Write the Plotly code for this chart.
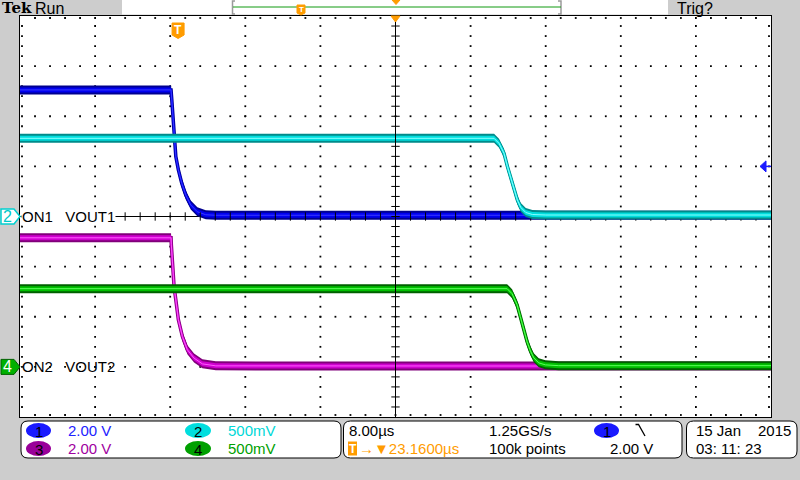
import plotly.graph_objects as go
import numpy as np

# ---------------- data ----------------
T_DIV = 8.0            # µs / div
T_CENTER = 23.16       # µs from trigger to screen centre
T0 = T_CENTER - 5 * T_DIV
T1 = T_CENTER + 5 * T_DIV
TRIG_LEVEL = 2.00      # V on CH1

ch1_scale, ch2_scale, ch3_scale, ch4_scale = 2.0, 0.5, 2.0, 0.5   # V/div
ch1_gnd, ch2_gnd, ch3_gnd, ch4_gnd = 0, 0, -3, -3                  # div from centre

ch1_t = [T0, -0.75, -0.67, -0.53, -0.39, -0.24, 0.03, 0.39, 0.82, 1.35, 2.05, 2.95, 4.02, T1]
ch1_v = [5.05, 5.05, 4.65, 3.85, 2.92, 2.39, 1.86, 1.33, 0.86, 0.46, 0.19, 0.07, 0.05, 0.05]

ch2_t = [T0, 33.66, 34.19, 34.72, 35.08, 35.44, 35.79, 36.14, 36.51, 37.04, 37.74, 39.17, T1]
ch2_v = [0.78, 0.78, 0.73, 0.63, 0.50, 0.38, 0.26, 0.165, 0.09, 0.04, 0.02, 0.015, 0.015]

ch3_t = [T0, -0.75, -0.72, -0.61, -0.43, -0.24, 0.03, 0.46, 0.99, 1.70, 2.59, 4.02, T1]
ch3_v = [5.15, 5.15, 4.87, 4.14, 3.21, 2.67, 1.88, 1.21, 0.68, 0.35, 0.12, 0.04, 0.03]

ch4_t = [T0, 35.05, 35.58, 36.11, 36.46, 36.83, 37.18, 37.53, 37.89, 38.42, 39.13, 40.55, T1]
ch4_v = [0.78, 0.78, 0.73, 0.62, 0.50, 0.37, 0.25, 0.16, 0.09, 0.04, 0.02, 0.012, 0.012]

ch_labels = ["ON1\u00a0\u00a0\u00a0VOUT1", "ON2\u00a0\u00a0\u00a0VOUT2"]
scale_texts = ["2.00\u00a0V", "500mV", "2.00\u00a0V", "500mV"]
timebase_text = "8.00µs"
trig_pos_text = "→▼23.1600µs"
rate_text = "1.25GS/s"
points_text = "100k points"
trig_level_text = "2.00\u00a0V"
date_text, year_text, time_text = "15 Jan", "2015", "03:\u00a011:\u00a023"

# ---------------- geometry / style ----------------
W, H = 800, 480
PL, PR, PT, PB = 20, 771, 16, 417
PX_DIV_Y = (PB - PT) / 8.0
FONT = "Liberation Sans"
ORANGE = "#ff9c00"

def px(x):
    return x / W

def py(y):
    return 1 - y / H

def yr(scale, gnd):
    return [(-4 - gnd) * scale, (4 - gnd) * scale]

fig = go.Figure()

# ---------------- graticule dots ----------------
gx, gy = [], []
for i in range(1, 10):
    if i == 5:
        continue
    for k in range(1, 40):
        gx.append(T0 + i * T_DIV)
        gy.append(-8 + 0.4 * k)
for j in range(1, 8):
    if j == 4:
        continue
    for k in range(1, 50):
        gx.append(T0 + 1.6 * k)
        gy.append(-8 + 2 * j)
# border ticks
dxb = 2 * T_DIV / 75.1
dyb = 2 * 2.0 / PX_DIV_Y
for k in range(1, 50):
    gx += [T0 + 1.6 * k, T0 + 1.6 * k]
    gy += [8 - dyb, -8 + dyb]
for k in range(1, 40):
    gx += [T0 + dxb, T1 - dxb]
    gy += [-8 + 0.4 * k, -8 + 0.4 * k]
fig.add_trace(go.Scatter(x=gx, y=gy, mode="markers",
                         marker=dict(symbol="square", size=1.8, color="#000000"),
                         hoverinfo="skip", showlegend=False))

# ---------------- waveforms ----------------
def add_channel(t, v, s, yaxis, c_edge, c_core, c_hi):
    for half, col, lw in [(4.5, c_edge, 3.5), (2.5, c_core, 2.0)]:
        d = half * s / PX_DIV_Y
        fig.add_trace(go.Scatter(x=t, y=[a - d for a in v], yaxis=yaxis, mode="lines",
                                 line=dict(width=0, color=col), hoverinfo="skip", showlegend=False))
        fig.add_trace(go.Scatter(x=t, y=[a + d for a in v], yaxis=yaxis, mode="lines",
                                 line=dict(width=0, color=col), fill="tonexty", fillcolor=col,
                                 hoverinfo="skip", showlegend=False))
        fig.add_trace(go.Scatter(x=t, y=v, yaxis=yaxis, mode="lines",
                                 line=dict(width=lw, color=col), hoverinfo="skip", showlegend=False))
    fig.add_trace(go.Scatter(x=t, y=v, yaxis=yaxis, mode="lines",
                             line=dict(width=1, color=c_hi), hoverinfo="skip", showlegend=False))

add_channel(ch1_t, ch1_v, ch1_scale, "y", "#000090", "#0000f0", "#3a3aff")
add_channel(ch2_t, ch2_v, ch2_scale, "y2", "#008a8a", "#00dede", "#8affff")
add_channel(ch3_t, ch3_v, ch3_scale, "y3", "#80007a", "#d000d0", "#ff5cff")
add_channel(ch4_t, ch4_v, ch4_scale, "y4", "#006000", "#00c000", "#5cff5c")

# centre-line ticks
fig.add_trace(go.Scatter(x=[T0 + 1.6 * k for k in range(1, 50)], y=[0] * 49, mode="markers",
                         marker=dict(symbol="line-ns", size=6, line=dict(width=1, color="#000")),
                         hoverinfo="skip", showlegend=False))
fig.add_trace(go.Scatter(x=[T_CENTER] * 39, y=[-8 + 0.4 * k for k in range(1, 40)], mode="markers",
                         marker=dict(symbol="line-ew", size=6, line=dict(width=1, color="#000")),
                         hoverinfo="skip", showlegend=False))

shapes = []
ann = []

# centre lines
shapes.append(dict(type="line", xref="x", yref="y", x0=T0, x1=T1, y0=0, y1=0,
                   line=dict(color="#000", width=1), layer="below"))
shapes.append(dict(type="line", xref="x", yref="y", x0=T_CENTER, x1=T_CENTER, y0=-8, y1=8,
                   line=dict(color="#000", width=1), layer="above"))

# ---------------- on-screen markers ----------------
def ppath(pts, close=True):
    s = "M " + " L ".join(f"{px(a):.5f},{py(b):.5f}" for a, b in pts)
    return s + (" Z" if close else "")

marker_path = "M {a},-7.5 L {b},-7.5 L {c},0 L {b},7.5 L {a},7.5 Z".format(a=px(1), b=px(14), c=px(20))
# channel 2 ground marker (cyan outline)
shapes.append(dict(type="path", xref="paper", yref="y2", ysizemode="pixel", yanchor=0,
                   path=marker_path, line=dict(color="#00d0d0", width=1.5), fillcolor="#ffffff"))
ann.append(dict(x=px(7.5), y=0, xref="paper", yref="y2", text="2", showarrow=False,
                font=dict(family=FONT, size=16, color="#00c8c8"), xanchor="center", yanchor="middle"))
# channel 4 ground marker (green filled)
shapes.append(dict(type="path", xref="paper", yref="y4", ysizemode="pixel", yanchor=0,
                   path=marker_path, line=dict(color="#006000", width=1), fillcolor="#00b000"))
ann.append(dict(x=px(7.5), y=0, xref="paper", yref="y4", text="4", showarrow=False,
                font=dict(family=FONT, size=16, color="#ffffff"), xanchor="center", yanchor="middle"))

# labels
ann.append(dict(x=px(21), y=0, xref="paper", yref="y", text=ch_labels[0], showarrow=False,
                font=dict(family=FONT, size=15, color="#000"), xanchor="left", yanchor="middle",
                bgcolor="#ffffff", borderpad=0))
ann.append(dict(x=px(21), y=0, xref="paper", yref="y4", text=ch_labels[1], showarrow=False,
                font=dict(family=FONT, size=15, color="#000"), xanchor="left", yanchor="middle",
                borderpad=0))

# trigger level arrow (right edge)
shapes.append(dict(type="path", xref="paper", yref="y", xsizemode="pixel", ysizemode="pixel",
                   xanchor=px(PR), yanchor=TRIG_LEVEL,
                   path="M -11,0 L -5,5.5 L -5,-5.5 Z", line=dict(color="#1a1aff", width=1),
                   fillcolor="#1a1aff"))
shapes.append(dict(type="path", xref="paper", yref="y", xsizemode="pixel", ysizemode="pixel",
                   xanchor=px(PR), yanchor=TRIG_LEVEL,
                   path="M -6,0 L 0,0", line=dict(color="#1a1aff", width=1.5)))

# trigger T marker on graticule
shapes.append(dict(type="path", xref="x", yref="paper", xsizemode="pixel", xanchor=0,
                   path="M -6,{a} L 6,{a} L 6,{b} L 0,{c} L -6,{b} Z".format(a=py(23), b=py(35), c=py(38.5)),
                   line=dict(color=ORANGE, width=1), fillcolor=ORANGE))
ann.append(dict(x=0, y=py(30), xref="x", yref="paper", text="<b>T</b>", showarrow=False,
                font=dict(family=FONT, size=12, color="#ffffff"), xanchor="center", yanchor="middle"))
# horizontal position marker
shapes.append(dict(type="path", xref="x", yref="paper", xsizemode="pixel", xanchor=T_CENTER,
                   path="M -4.5,{a} L 4.5,{a} L 0,{b} Z".format(a=py(16), b=py(22)),
                   line=dict(color=ORANGE, width=1), fillcolor=ORANGE))

# ---------------- top bar ----------------
shapes.append(dict(type="rect", xref="paper", yref="paper", x0=px(122), x1=px(668), y0=py(0), y1=py(14.5),
                   line=dict(width=0), fillcolor="#ffffff"))
shapes.append(dict(type="path", xref="paper", yref="paper",
                   path=ppath([(235, 1), (232.5, 1), (232.5, 14), (235, 14)], close=False),
                   line=dict(color="#9a9a9a", width=1.5)))
shapes.append(dict(type="path", xref="paper", yref="paper",
                   path=ppath([(558, 1), (561, 1), (561, 14), (558, 14)], close=False),
                   line=dict(color="#9a9a9a", width=1.5)))
shapes.append(dict(type="line", xref="paper", yref="paper", x0=px(233), x1=px(561), y0=py(7), y1=py(7),
                   line=dict(color="#109a10", width=1)))
shapes.append(dict(type="path", xref="paper", yref="paper",
                   path=ppath([(297, 5), (305, 5), (305, 13), (301, 15), (297, 13)]),
                   line=dict(color=ORANGE, width=1), fillcolor=ORANGE))
ann.append(dict(x=px(301), y=py(9.5), xref="paper", yref="paper", text="<b>T</b>", showarrow=False,
                font=dict(family=FONT, size=8, color="#ffffff"), xanchor="center", yanchor="middle"))
shapes.append(dict(type="path", xref="paper", yref="paper",
                   path=ppath([(392, 0), (400, 0), (396, 4.5)]),
                   line=dict(color=ORANGE, width=1), fillcolor=ORANGE))
ann.append(dict(x=px(1), y=py(8), xref="paper", yref="paper", text="<b>Tek</b>", showarrow=False,
                font=dict(family="DejaVu Serif", size=15, color="#000"), xanchor="left", yanchor="middle",
                borderpad=0))
ann.append(dict(x=px(34), y=py(8), xref="paper", yref="paper", text="Run", showarrow=False,
                font=dict(family=FONT, size=16, color="#000"), xanchor="left", yanchor="middle",
                borderpad=0))
ann.append(dict(x=px(675), y=py(8), xref="paper", yref="paper", text="Trig?", showarrow=False,
                font=dict(family=FONT, size=16, color="#000"), xanchor="left", yanchor="middle"))

# ---------------- bottom panels ----------------
def rrect(x0, y0, x1, y1, r):
    pts = (f"M {px(x0 + r)},{py(y0)} L {px(x1 - r)},{py(y0)} Q {px(x1)},{py(y0)} {px(x1)},{py(y0 + r)} "
           f"L {px(x1)},{py(y1 - r)} Q {px(x1)},{py(y1)} {px(x1 - r)},{py(y1)} "
           f"L {px(x0 + r)},{py(y1)} Q {px(x0)},{py(y1)} {px(x0)},{py(y1 - r)} "
           f"L {px(x0)},{py(y0 + r)} Q {px(x0)},{py(y0)} {px(x0 + r)},{py(y0)} Z")
    return pts

for (a, b) in [(21, 341), (343.5, 682), (686.5, 797)]:
    shapes.append(dict(type="path", xref="paper", yref="paper", path=rrect(a, 421, b, 458, 7),
                       line=dict(color="#000", width=1), fillcolor="#ffffff"))

def badge(x0, x1, y0, y1, col, digit):
    shapes.append(dict(type="circle", xref="paper", yref="paper", x0=px(x0), x1=px(x1),
                       y0=py(y0), y1=py(y1), line=dict(width=0), fillcolor=col))
    ann.append(dict(x=px((x0 + x1) / 2), y=py((y0 + y1) / 2 + 0.5), xref="paper", yref="paper",
                    text=digit, showarrow=False, font=dict(family=FONT, size=15, color="#000"),
                    xanchor="center", yanchor="middle"))

def txt(x, y, s, col="#000", size=15, anchor="left"):
    ann.append(dict(x=px(x), y=py(y), xref="paper", yref="paper", text=s, showarrow=False,
                    font=dict(family=FONT, size=size, color=col), xanchor=anchor, yanchor="middle"))

R1, R2 = 430.5, 448.5
badge(26, 51, 423, 438, "#1a1aff", "1")
badge(26, 51, 441, 456, "#990099", "3")
badge(185, 211, 423, 438, "#00dede", "2")
badge(185, 211, 441, 456, "#00a000", "4")
txt(66, R1, scale_texts[0], "#2222ff")
txt(66, R2, scale_texts[2], "#a000a0")
txt(226, R1, scale_texts[1], "#00d8d8")
txt(226, R2, scale_texts[3], "#00a000")

txt(347, R1, timebase_text)
shapes.append(dict(type="rect", xref="paper", yref="paper", x0=px(348), x1=px(357), y0=py(441.5), y1=py(455.5),
                   line=dict(width=0), fillcolor=ORANGE))
ann.append(dict(x=px(352.5), y=py(448.5), xref="paper", yref="paper", text="<b>T</b>", showarrow=False,
                font=dict(family=FONT, size=12, color="#ffffff"), xanchor="center", yanchor="middle"))
txt(357, R2, trig_pos_text, ORANGE)
txt(487, R1, rate_text)
txt(487, R2, points_text)
badge(594, 619, 423, 438, "#1a1aff", "1")
shapes.append(dict(type="path", xref="paper", yref="paper",
                   path=ppath([(635.5, 424.5), (638.5, 424.5), (645, 436)], close=False),
                   line=dict(color="#000", width=1.3)))
txt(608, R2, trig_level_text)

txt(694, R1, date_text)
txt(793, R1, year_text, anchor="right")
txt(694, R2, time_text)

# ---------------- layout ----------------
ax_common = dict(showgrid=False, zeroline=False, showticklabels=False, ticks="")
fig.update_layout(
    width=W, height=H, margin=dict(l=0, r=0, t=0, b=0),
    paper_bgcolor="#cdcdcd", plot_bgcolor="#ffffff",
    showlegend=False,
    xaxis=dict(domain=[px(PL), px(PR)], range=[T0, T1], showline=True, mirror=True,
               linecolor="#000", linewidth=1, **ax_common),
    yaxis=dict(domain=[py(PB), py(PT)], range=yr(ch1_scale, ch1_gnd), showline=True, mirror=True,
               linecolor="#000", linewidth=1, **ax_common),
    yaxis2=dict(overlaying="y", range=yr(ch2_scale, ch2_gnd), visible=False, **ax_common),
    yaxis3=dict(overlaying="y", range=yr(ch3_scale, ch3_gnd), visible=False, **ax_common),
    yaxis4=dict(overlaying="y", range=yr(ch4_scale, ch4_gnd), visible=False, **ax_common),
    shapes=shapes, annotations=ann,
)

fig.write_html("out.html")
